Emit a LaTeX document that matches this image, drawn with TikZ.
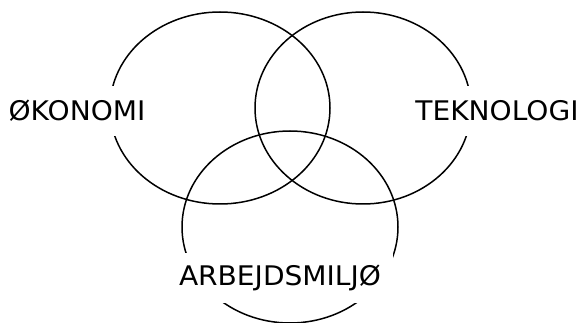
\documentclass[tikz,border=0pt]{standalone}
\usepackage{fontspec}
\setmainfont[FakeStretch=1.04]{DejaVu Sans}
\begin{document}
\begin{tikzpicture}[x=1pt,y=-1pt,
  ring/.style={draw=black,line width=1.5pt},
  tag/.style={fill=white,inner xsep=4pt,minimum height=50pt,font=\fontsize{27}{32}\selectfont}]
\useasboundingbox (0,0) rectangle (579,323);
% the three overlapping areas
\draw[ring] (220,108) ellipse [x radius=110pt,y radius=96pt];
\draw[ring] (363,108) ellipse [x radius=108pt,y radius=96pt];
\draw[ring] (290,227) ellipse [x radius=108pt,y radius=96pt];
% labels laid over the outlines
\node[tag] (oko) at (77,111) {ØKONOMI};
\node[tag] (tek) at (497,111) {TEKNOLOGI};
\node[tag,inner xsep=12pt] (arb) at (280,278) {ARBEJDSMILJØ};
\end{tikzpicture}
\end{document}
